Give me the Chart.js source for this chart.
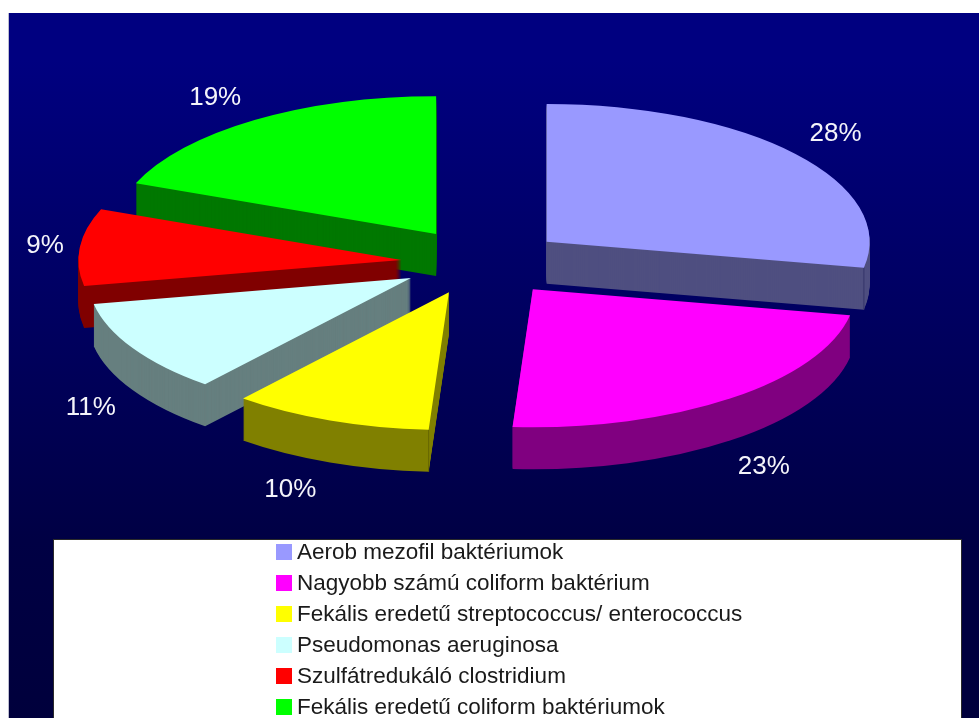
<!DOCTYPE html>
<html>
<head>
<meta charset="utf-8">
<title>Baktériumok megoszlása</title>
<script src="https://cdn.jsdelivr.net/npm/chart.js@4"></script>
<style>
    html, body { margin: 0; padding: 0; background: #fff; overflow: hidden; }
    canvas { display: block; }
</style>
</head>
<body>
<canvas id="chart" width="979" height="718"></canvas>
<script>
const categories = [
    'Aerob mezofil baktériumok',
    'Nagyobb számú coliform baktérium',
    'Fekális eredetű streptococcus/ enterococcus',
    'Pseudomonas aeruginosa',
    'Szulfátredukáló clostridium',
    'Fekális eredetű coliform baktériumok'
];
const shares = [28, 23, 10, 11, 9, 19];

const topColors = ['#9999ff', '#ff00ff', '#ffff00', '#ccffff', '#ff0000', '#00ff00'];
const sideColors = ['#4f4f80', '#800080', '#808000', '#667f7f', '#800000', '#007800'];

// how far each slice is pulled out of the pie, and where its % text sits
const explodeX = [80, 78, 98, 86, 84, 87];
const explodeY = [74, 81, 76, 74, 47, 79];
const labelReachX = [375, 377, 431, 372, 358, 393];
const labelReachY = [400, 400, 390, 401, 375, 388];

// back slices first so the front ones cover them
const paintOrder = [5, 4, 3, 2, 1, 0];

const TILT = 0.427;
const DEPTH = 42;

function sliceDirection(arc) {
    const mid = (arc.startAngle + arc.endAngle) / 2;
    return { x: Math.cos(mid), y: Math.sin(mid) };
}

const backdrop = {
    id: 'backdrop',
    beforeDraw(chart) {
        const ctx = chart.ctx;
        const g = ctx.createLinearGradient(0, 60, 0, 718);
        g.addColorStop(0, '#000080');
        g.addColorStop(0.73, '#000044');
        g.addColorStop(1, '#00003c');
        ctx.save();
        ctx.fillStyle = '#bdbdd0';
        ctx.fillRect(8, 13, 1, 705);
        ctx.fillStyle = g;
        ctx.fillRect(9, 13, 970, 705);
        ctx.restore();
    }
};

// squashes the arcs into an ellipse and stacks dark copies under them for the wall
const tiltedPie = {
    id: 'tiltedPie',
    beforeDatasetsDraw(chart) {
        const ctx = chart.ctx;
        const arcs = chart.getDatasetMeta(0).data;
        const place = (arc, i, lift) => {
            const dir = sliceDirection(arc);
            ctx.save();
            ctx.translate(arc.x + dir.x * explodeX[i], arc.y + dir.y * explodeY[i] * TILT + lift);
            ctx.scale(1, TILT);
            ctx.translate(-arc.x, -arc.y);
            arc.draw(ctx);
            ctx.restore();
        };
        // thin seam where a slice's cut face meets its rim
        const seam = (arc, i, angle, color) => {
            const dir = sliceDirection(arc);
            const x = arc.x + dir.x * explodeX[i] + Math.cos(angle) * arc.outerRadius;
            const y = arc.y + dir.y * explodeY[i] * TILT + Math.sin(angle) * arc.outerRadius * TILT;
            ctx.save();
            ctx.strokeStyle = color;
            ctx.lineWidth = 1;
            ctx.beginPath();
            ctx.moveTo(x, y);
            ctx.lineTo(x, y + DEPTH);
            ctx.stroke();
            ctx.restore();
        };
        paintOrder.forEach(i => {
            const arc = arcs[i];
            const faceOptions = arc.options;
            arc.options = Object.assign({}, faceOptions, { backgroundColor: sideColors[i] });
            for (let d = DEPTH; d > 0; d--) {
                place(arc, i, d);
            }
            arc.options = faceOptions;
            if (i === 0) seam(arc, i, arc.endAngle, '#34346a');
            if (i === 2) seam(arc, i, arc.startAngle, '#666600');
            place(arc, i, 0);
        });
        return false;
    },
    afterDraw(chart) {
        const ctx = chart.ctx;
        const arcs = chart.getDatasetMeta(0).data;
        ctx.save();
        ctx.fillStyle = '#f4f4fa';
        ctx.font = '26px "Liberation Sans", Arial, sans-serif';
        ctx.textAlign = 'center';
        ctx.textBaseline = 'middle';
        arcs.forEach((arc, i) => {
            const dir = sliceDirection(arc);
            const x = arc.x + dir.x * (explodeX[i] + labelReachX[i]);
            let y = arc.y + dir.y * (explodeY[i] + labelReachY[i]) * TILT + 1;
            if (dir.y > 0) y += DEPTH;
            ctx.fillText(shares[i] + '%', x, y);
        });
        ctx.restore();
    }
};

// white legend box along the bottom of the slide
const legendBox = {
    id: 'legendBox',
    afterDraw(chart) {
        const ctx = chart.ctx;
        ctx.save();
        ctx.fillStyle = '#ffffff';
        ctx.fillRect(54, 540, 907, 178);
        ctx.strokeStyle = '#2a2a2a';
        ctx.lineWidth = 1;
        ctx.strokeRect(53.5, 539.5, 908, 190);
        ctx.font = '22.5px "Liberation Sans", Arial, sans-serif';
        ctx.textAlign = 'left';
        ctx.textBaseline = 'alphabetic';
        categories.forEach((name, i) => {
            const top = 544 + i * 31;
            ctx.fillStyle = topColors[i];
            ctx.fillRect(276, top, 16, 16);
            ctx.fillStyle = '#1a1a1a';
            ctx.fillText(name, 297, top + 14.5);
        });
        ctx.restore();
    }
};

new Chart(document.getElementById('chart'), {
    type: 'pie',
    data: {
        labels: categories,
        datasets: [{
            data: shares,
            backgroundColor: topColors,
            borderWidth: 0
        }]
    },
    options: {
        responsive: false,
        animation: false,
        radius: 323,
        layout: { padding: { right: 9, bottom: 194 } },
        plugins: {
            legend: { display: false },
            tooltip: { enabled: false }
        }
    },
    plugins: [backdrop, tiltedPie, legendBox]
});
</script>
</body>
</html>
